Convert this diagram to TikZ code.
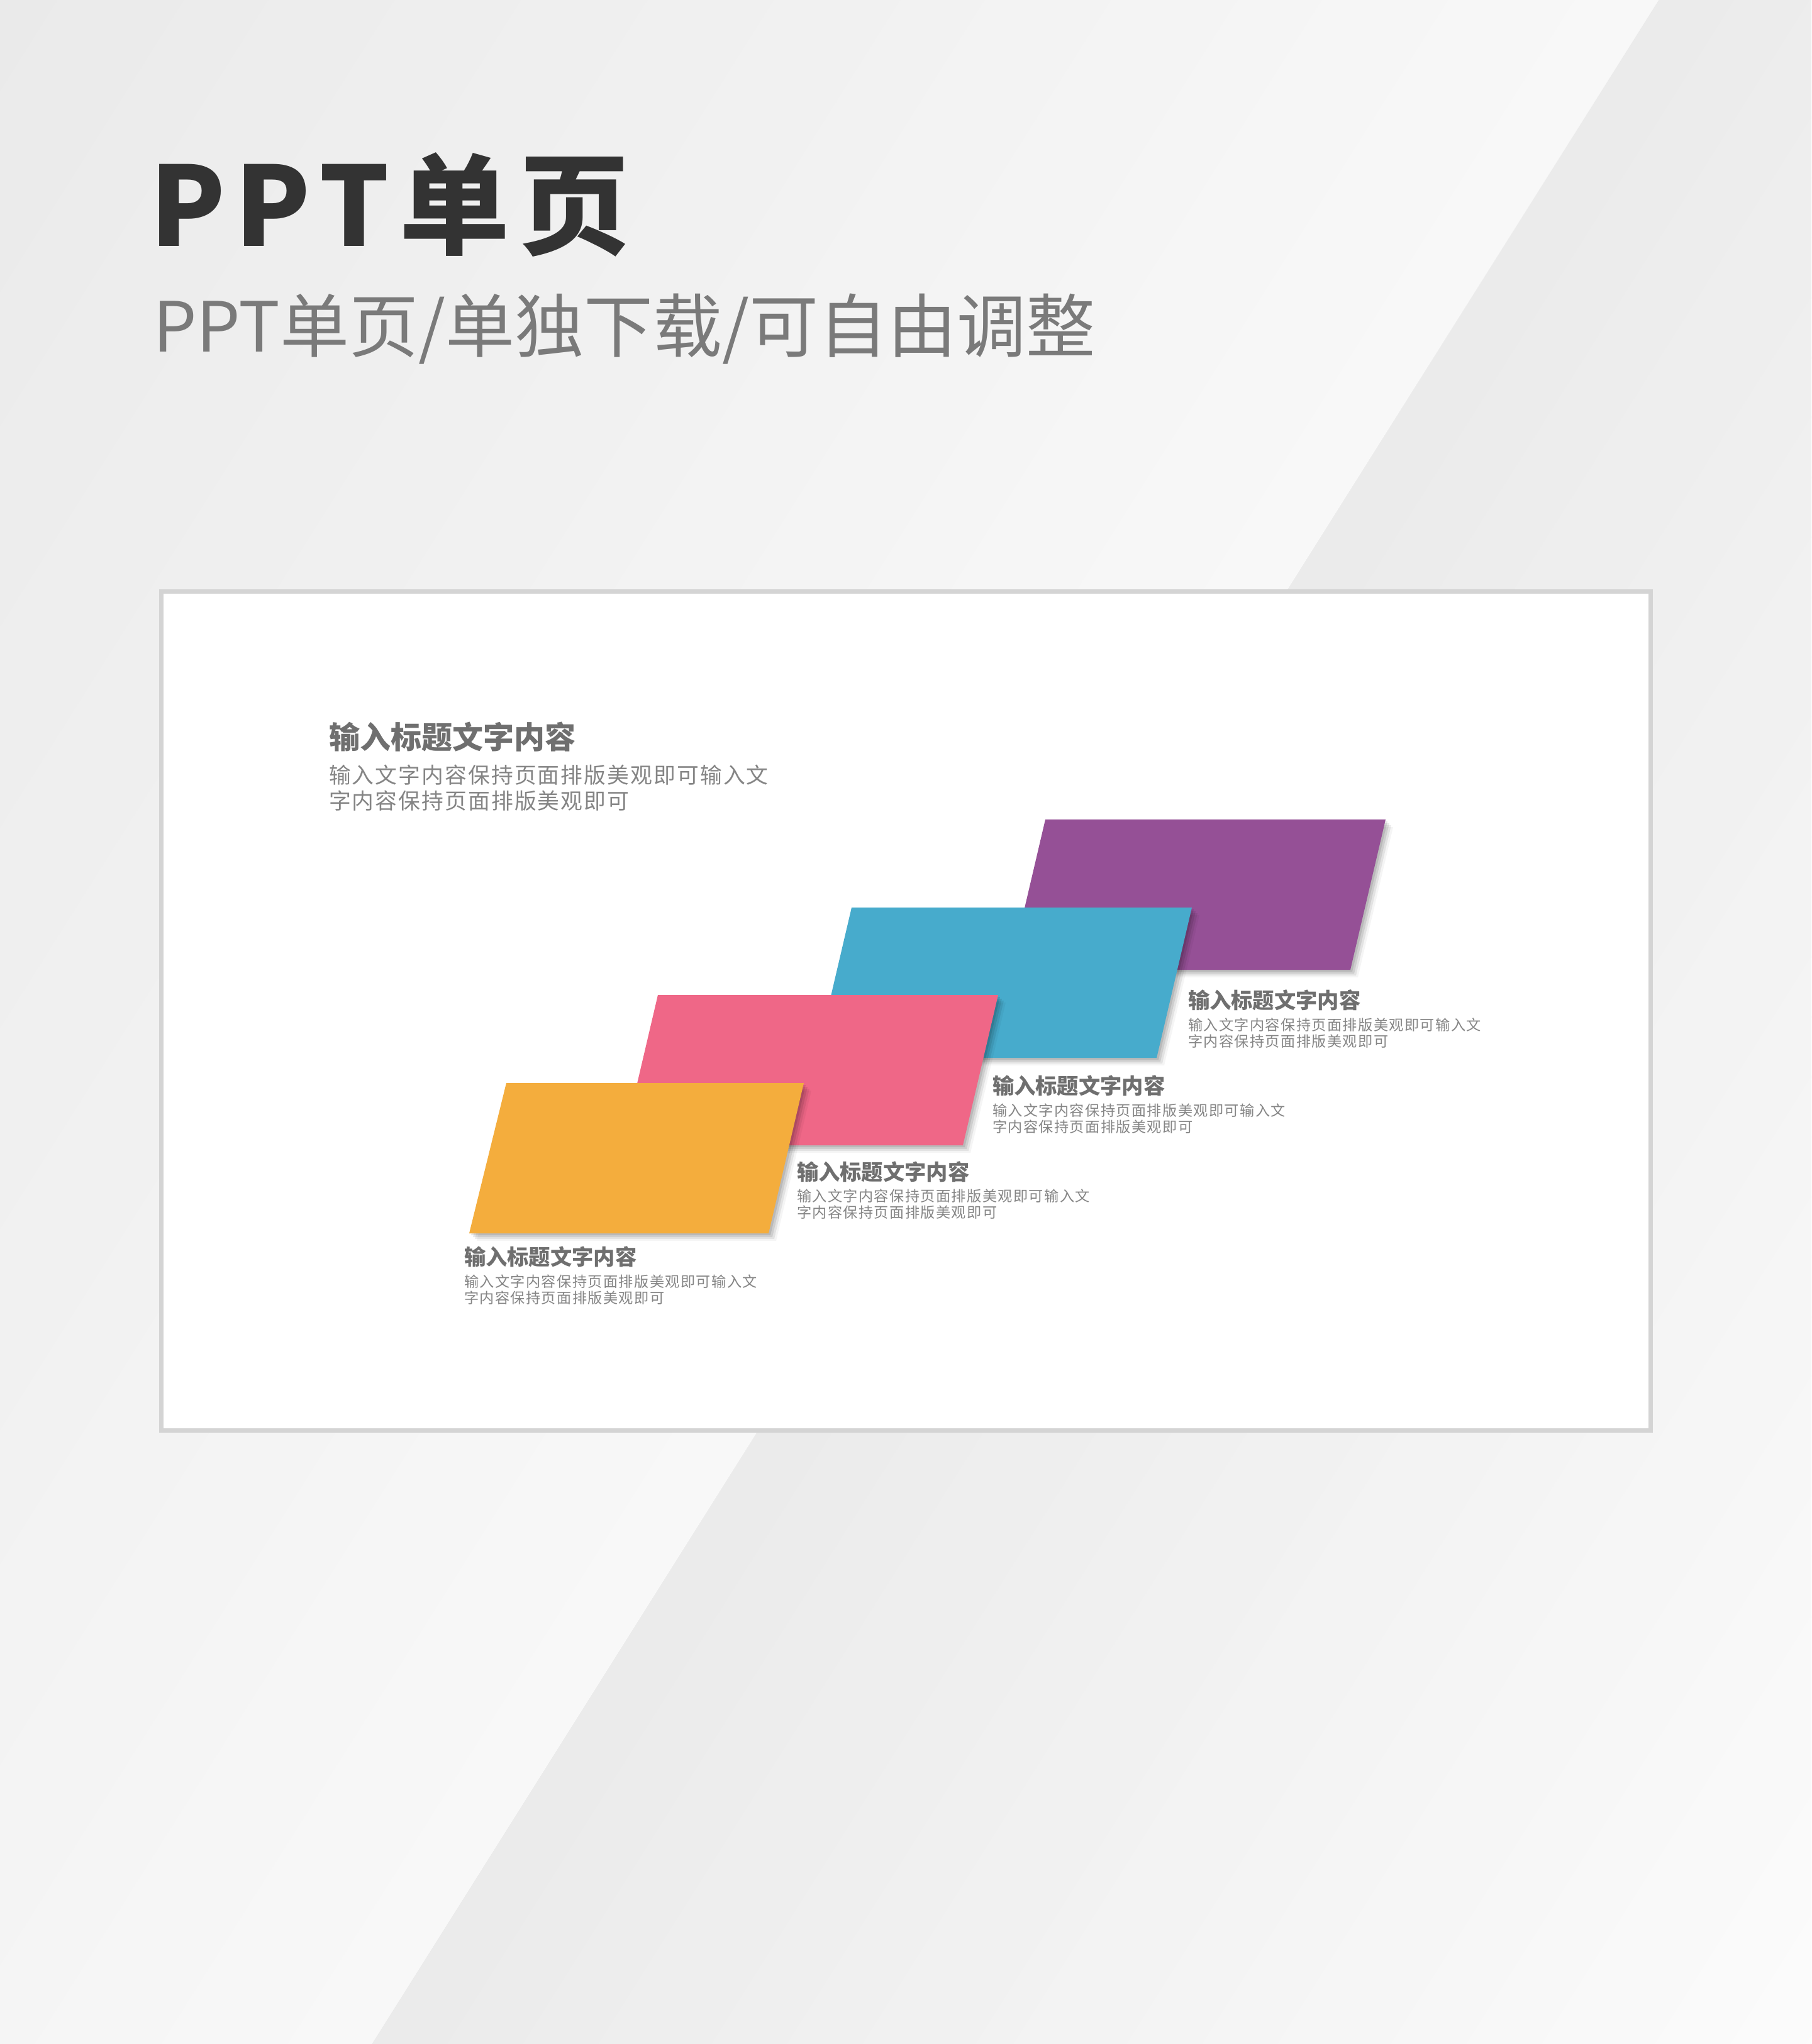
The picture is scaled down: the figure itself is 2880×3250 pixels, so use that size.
\documentclass[tikz,border=0pt]{standalone}
\usepackage{fontspec}
\setmainfont{Noto Sans CJK SC}
\definecolor{bgA}{HTML}{EAEAEA}
\definecolor{bgB}{HTML}{F8F8F8}
\definecolor{bgC}{HTML}{EBEBEB}
\definecolor{bgD}{HTML}{FCFCFC}
\definecolor{framec}{HTML}{D4D4D4}
\definecolor{ttlc}{HTML}{333333}
\definecolor{subc}{HTML}{7A7A7A}
\definecolor{hdc}{HTML}{6F6F6F}
\definecolor{bdc}{HTML}{858585}
\definecolor{cpur}{HTML}{955096}
\definecolor{cblu}{HTML}{47ABCC}
\definecolor{cpnk}{HTML}{EF6787}
\definecolor{corg}{HTML}{F4AD3D}
\tikzset{
  txt/.style={anchor=base west, inner sep=0pt, outer sep=0pt},
  bighd/.style={txt, text=hdc, font=\bfseries\fontsize{9.8pt}{9.8pt}\selectfont},
  bigbd/.style={txt, text=bdc, font=\fontsize{6.96pt}{6.96pt}\selectfont\addfontfeature{LetterSpace=6}},
  smhd/.style={txt, text=hdc, font=\bfseries\fontsize{6.86pt}{6.86pt}\selectfont},
  smbd/.style={txt, text=bdc, font=\fontsize{4.64pt}{4.64pt}\selectfont\addfontfeature{LetterSpace=6}},
}
\newcommand\cardshape[9]{%
  \foreach \d/\o in {3/0.10,6/0.09,9/0.07,12/0.04}{%
    \fill[black, opacity=\o, shift={(\d,\d)}] (#2,#3) -- (#4,#5) -- (#6,#7) -- (#8,#9) -- cycle;}%
  \fill[#1] (#2,#3) -- (#4,#5) -- (#6,#7) -- (#8,#9) -- cycle;%
}
\begin{document}
\begin{tikzpicture}[x=0.2pt,y=-0.2pt]
\useasboundingbox (0,0) rectangle (2880,3250);
% background: bands parallel to the diagonal (2637,0)--(591,3250)
\begin{scope}
\clip (0,0) rectangle (2880,3250);
\foreach \i in {0,...,39}{%
  \pgfmathsetmacro\pa{100-\i*100/39}%
  \pgfmathsetmacro\sa{\i*60}%
  \pgfmathsetmacro\sb{(\i+1)*60+2}%
  \fill[bgC!\pa!bgD] (2637+\sa,0) -- (2637+\sb,0) -- (591+\sb,3250) -- (591+\sa,3250) -- cycle;
  \pgfmathsetmacro\ta{-\i*67}%
  \pgfmathsetmacro\tb{-(\i+1)*67-2}%
  \fill[bgB!\pa!bgA] (2637+\ta,0) -- (2637+\tb,0) -- (591+\tb,3250) -- (591+\ta,3250) -- cycle;
}
\end{scope}
% titles
\node[txt, text=ttlc, font=\bfseries\fontsize{35pt}{35pt}\selectfont\addfontfeature{LetterSpace=9}] (title) at (238,392) {PPT单页};
\node[txt, text=subc, font=\fontsize{22pt}{22pt}\selectfont] (subtitle) at (243,560) {PPT单页/单独下载/可自由调整};
% slide frame
\draw[framec, line width=1.4pt, fill=white] (256.5,940.5) rectangle (2624.5,2274.5);
% heading
\node[bighd] (mainhd) at (523,1190) {输入标题文字内容};
\node[bigbd] (mainbd1) at (523,1245) {输入文字内容保持页面排版美观即可输入文};
\node[bigbd] (mainbd2) at (523,1286) {字内容保持页面排版美观即可};
% cards
\cardshape{cpur}{1662}{1303}{2203}{1303}{2147}{1542}{1606}{1542}
\cardshape{cblu}{1354}{1443}{1895}{1443}{1839}{1682}{1298}{1682}
\cardshape{cpnk}{1046}{1582}{1587}{1582}{1531}{1821}{990}{1821}
\cardshape{corg}{805}{1722}{1278}{1722}{1222}{1961}{746}{1961}
% labels
\node[smhd] (purhd) at (1889,1603) {输入标题文字内容};
\node[smbd] (purb1) at (1889,1638) {输入文字内容保持页面排版美观即可输入文};
\node[smbd] (purb2) at (1889,1664) {字内容保持页面排版美观即可};
\node[smhd] (bluhd) at (1578,1739) {输入标题文字内容};
\node[smbd] (blub1) at (1578,1774) {输入文字内容保持页面排版美观即可输入文};
\node[smbd] (blub2) at (1578,1800) {字内容保持页面排版美观即可};
\node[smhd] (pnkhd) at (1267,1876) {输入标题文字内容};
\node[smbd] (pnkb1) at (1267,1910) {输入文字内容保持页面排版美观即可输入文};
\node[smbd] (pnkb2) at (1267,1936) {字内容保持页面排版美观即可};
\node[smhd] (orghd) at (738,2011) {输入标题文字内容};
\node[smbd] (orgb1) at (738,2046) {输入文字内容保持页面排版美观即可输入文};
\node[smbd] (orgb2) at (738,2072) {字内容保持页面排版美观即可};
\end{tikzpicture}
\end{document}
